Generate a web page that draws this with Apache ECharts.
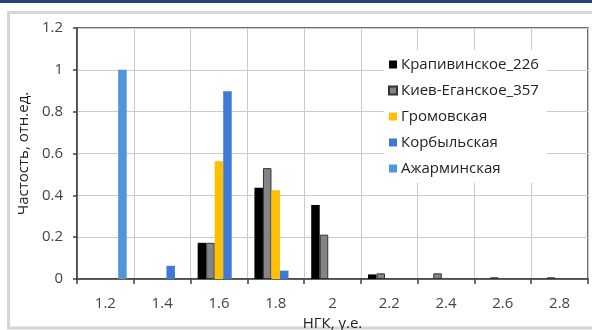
<!DOCTYPE html>
<html>
<head>
<meta charset="utf-8">
<script src="https://cdn.jsdelivr.net/npm/echarts@6/dist/echarts.min.js"></script>
<style>html,body{margin:0;padding:0;background:#fff}#c{width:592px;height:330px}</style>
</head>
<body>
<div id="c"></div>
<script>
const categories = ['1.2','1.4','1.6','1.8','2','2.2','2.4','2.6','2.8'];
const seriesNames = ['Крапивинское_226','Киев-Еганское_357','Громовская','Корбыльская','Ажарминская'];
const krapivinskoe = [null, null, 0.173, 0.436, 0.354, 0.022, null, null, null];
const kievEganskoe = [null, null, 0.173, 0.530, 0.212, 0.027, 0.027, 0.008, 0.008];
const gromovskaya  = [null, null, 0.563, 0.424, null, null, null, null, null];
const korbylskaya  = [null, 0.063, 0.898, 0.040, null, null, null, null, null];
const azharminskaya= [1.0, null, null, null, null, null, null, null, null];
const yTicks = [0, 0.2, 0.4, 0.6, 0.8, 1, 1.2];

const values = [krapivinskoe, kievEganskoe, gromovskaya, korbylskaya, azharminskaya];
const colors = ['#000000', '#858585', '#FFC000', '#3F7AD8', '#5096DA'];
const font = 'Open Sans';

const chart = echarts.init(document.getElementById('c'));
chart.setOption({
  animation: false,
  textStyle: {fontFamily: font},
  graphic: [
    {type:'rect', shape:{x:0,y:0,width:592,height:3}, style:{fill:'#1F4478'}, z:10},
    {type:'rect', shape:{x:8.5,y:12.5,width:600,height:315.5}, style:{fill:'none', stroke:'#D6D6D6', lineWidth:3}, z:0}
  ],
  grid: {left: 77, right: 4, top: 28, bottom: 51, show: true, borderColor: '#404040', borderWidth: 1.5,
         containLabel: false, outerBoundsMode: 'none'},
  legend: {
    orient: 'vertical', left: 384, top: 50,
    itemWidth: 8, itemHeight: 8, itemGap: 9,
    icon: 'rect',
    backgroundColor: '#fff',
    padding: [6, 8, 6, 4],
    textStyle: {fontSize: 15, color: '#222', lineHeight: 17, fontFamily: font, padding: [0,0,0,-1]},
    data: seriesNames
  },
  xAxis: {
    type: 'category', data: categories,
    name: 'НГК, у.е.', nameLocation: 'middle', nameGap: 30,
    nameTextStyle: {fontSize: 15, color: '#222', fontFamily: font},
    axisLine: {lineStyle: {color: '#404040', width: 1.5}},
    axisTick: {show: true, length: 5, lineStyle: {color: '#404040', width: 1.5}},
    axisLabel: {fontSize: 15, color: '#444', margin: 17, fontFamily: font},
    splitLine: {show: true, lineStyle: {color: '#CACACA', width: 1}}
  },
  yAxis: {
    type: 'value', min: 0, max: 1.2, interval: 0.2,
    name: 'Частость, отн.ед.', nameLocation: 'middle', nameGap: 35,
    nameTextStyle: {fontSize: 15, color: '#222', fontFamily: font},
    axisLine: {show: true, lineStyle: {color: '#404040', width: 1.5}},
    axisTick: {show: true, inside: false, length: 4, lineStyle: {color: '#404040', width: 1.5}},
    axisLabel: {fontSize: 15, color: '#444', margin: 14, fontFamily: font,
      formatter: v => { const t = yTicks.find(x => Math.abs(x - v) < 1e-9); return String(t !== undefined ? t : v); }},
    splitLine: {show: true, lineStyle: {color: '#CACACA', width: 1}}
  },
  series: seriesNames.map((n, i) => ({
    name: n, type: 'bar', data: values[i],
    barGap: '0%', barCategoryGap: '25%',
    itemStyle: {color: colors[i], borderColor: i === 1 ? '#333' : colors[i], borderWidth: i === 1 ? 1 : 0}
  }))
});
</script>
</body>
</html>
